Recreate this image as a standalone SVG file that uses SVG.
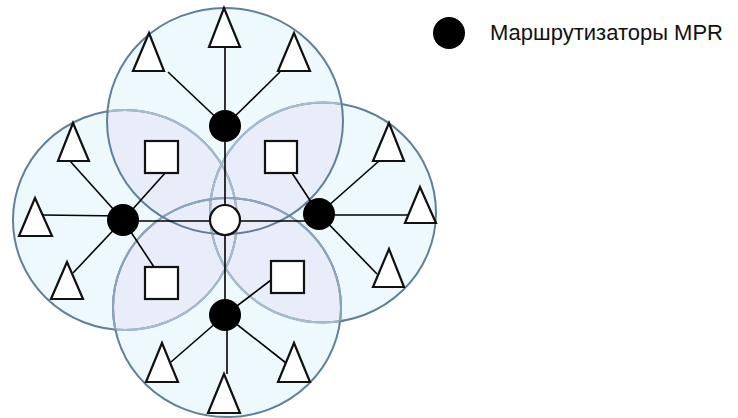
<svg xmlns="http://www.w3.org/2000/svg" width="738" height="418" viewBox="0 0 738 418">
<style>
.zone{fill:#eef9fd;stroke:none}
.ov{fill:#e9ecf9;stroke:none}
.ring{fill:none;stroke:#5f7f9a;stroke-width:2}
.ringL{fill:none;stroke:#a9bccd;stroke-width:2}
.ringM{fill:none;stroke:#8ba4bb;stroke-width:2}
.tri{fill:#fff;stroke:#111;stroke-width:2.2}
.sq{fill:#fff;stroke:#111;stroke-width:2.2}
.mpr{fill:#000}
.ctr{fill:#fff;stroke:#111;stroke-width:2.2}
.con line{stroke:#000;stroke-width:1.6}
.lbl{font-family:"Liberation Sans",Arial,sans-serif;font-size:22px;fill:#111}
</style>
<defs>
<clipPath id="cT"><ellipse cx="225" cy="121" rx="118" ry="113"/></clipPath>
<clipPath id="cL"><ellipse cx="125" cy="220" rx="112" ry="110"/></clipPath>
<clipPath id="cR"><ellipse cx="323" cy="212.5" rx="113" ry="110"/></clipPath>
<clipPath id="cB"><ellipse cx="227" cy="307.5" rx="114" ry="109.5"/></clipPath>
<clipPath id="oL"><ellipse cx="225" cy="121" rx="118" ry="113"/><ellipse cx="323" cy="212.5" rx="113" ry="110"/><ellipse cx="227" cy="307.5" rx="114" ry="109.5"/></clipPath>
<clipPath id="oR"><ellipse cx="225" cy="121" rx="118" ry="113"/><ellipse cx="125" cy="220" rx="112" ry="110"/><ellipse cx="227" cy="307.5" rx="114" ry="109.5"/></clipPath>
<clipPath id="oB"><ellipse cx="225" cy="121" rx="118" ry="113"/><ellipse cx="125" cy="220" rx="112" ry="110"/><ellipse cx="323" cy="212.5" rx="113" ry="110"/></clipPath>
</defs>

<g id="zones">
<ellipse class="zone" cx="125" cy="220" rx="112" ry="110"/>
<ellipse class="zone" cx="323" cy="212.5" rx="113" ry="110"/>
<ellipse class="zone" cx="227" cy="307.5" rx="114" ry="109.5"/>
<ellipse class="zone" cx="225" cy="121" rx="118" ry="113"/>
<ellipse class="ov" cx="225" cy="121" rx="118" ry="113" clip-path="url(#cL)"/>
<ellipse class="ov" cx="225" cy="121" rx="118" ry="113" clip-path="url(#cR)"/>
<ellipse class="ov" cx="225" cy="121" rx="118" ry="113" clip-path="url(#cB)"/>
<ellipse class="ov" cx="227" cy="307.5" rx="114" ry="109.5" clip-path="url(#cL)"/>
<ellipse class="ov" cx="227" cy="307.5" rx="114" ry="109.5" clip-path="url(#cR)"/>
<ellipse class="ov" cx="125" cy="220" rx="112" ry="110" clip-path="url(#cR)"/>
<ellipse class="ring" cx="125" cy="220" rx="112" ry="110"/>
<ellipse class="ringL" cx="125" cy="220" rx="112" ry="110" clip-path="url(#oL)"/>
<ellipse class="ring" cx="323" cy="212.5" rx="113" ry="110"/>
<ellipse class="ringL" cx="323" cy="212.5" rx="113" ry="110" clip-path="url(#oR)"/>
<ellipse class="ring" cx="227" cy="307.5" rx="114" ry="109.5"/>
<ellipse class="ringM" cx="227" cy="307.5" rx="114" ry="109.5" clip-path="url(#oB)"/>
<ellipse class="ring" cx="225" cy="121" rx="118" ry="113"/>
</g>

<g id="connectors" class="con">
<line x1="225" y1="126" x2="225" y2="47"/>
<line x1="225" y1="126" x2="168" y2="72"/>
<line x1="225" y1="126" x2="280" y2="72"/>
<line x1="225" y1="126" x2="225" y2="219"/>
<line x1="225" y1="219" x2="225" y2="315"/>
<line x1="123" y1="220" x2="70" y2="161"/>
<line x1="123" y1="216" x2="43" y2="215"/>
<line x1="123" y1="220" x2="73" y2="273"/>
<line x1="123" y1="220" x2="166" y2="172"/>
<line x1="123" y1="220" x2="154" y2="267"/>
<line x1="123" y1="221" x2="319" y2="221"/>
<line x1="319" y1="214" x2="379" y2="161"/>
<line x1="319" y1="215" x2="408" y2="215"/>
<line x1="319" y1="214" x2="377" y2="274"/>
<line x1="319" y1="214" x2="292" y2="173"/>
<line x1="225" y1="315" x2="171" y2="362"/>
<line x1="227" y1="315" x2="227" y2="374"/>
<line x1="225" y1="315" x2="286" y2="363"/>
<line x1="225" y1="315" x2="271" y2="280"/>
</g>

<g id="mpr-top"><circle class="mpr" cx="225" cy="126" r="16"/></g>
<g id="mpr-left"><circle class="mpr" cx="123" cy="220" r="16"/></g>
<g id="mpr-right"><circle class="mpr" cx="319" cy="214" r="16"/></g>
<g id="mpr-bottom"><circle class="mpr" cx="225" cy="315" r="16"/></g>
<g id="center"><circle class="ctr" cx="225" cy="220" r="15"/></g>

<g id="sq1"><rect class="sq" x="145" y="141" width="33" height="32"/></g>
<g id="sq2"><rect class="sq" x="265" y="141" width="32" height="32"/></g>
<g id="sq3"><rect class="sq" x="145" y="267" width="33" height="32"/></g>
<g id="sq4"><rect class="sq" x="271" y="261" width="33" height="32"/></g>

<g id="t1"><polygon class="tri" points="224,8 209,47 240,47"/></g>
<g id="t2"><polygon class="tri" points="149,33 133,71 164,71"/></g>
<g id="t3"><polygon class="tri" points="294,33 278,71 310,71"/></g>
<g id="l1"><polygon class="tri" points="73,123 58,161 89,161"/></g>
<g id="l2"><polygon class="tri" points="35,198 19,236 52,236"/></g>
<g id="l3"><polygon class="tri" points="67,262 51,299 83,299"/></g>
<g id="r1"><polygon class="tri" points="389,123 373,161 404,161"/></g>
<g id="r2"><polygon class="tri" points="420,187 405,223 436,223"/></g>
<g id="r3"><polygon class="tri" points="389,249 373,287 404,287"/></g>
<g id="b1"><polygon class="tri" points="162,343 146,382 178,382"/></g>
<g id="b2"><polygon class="tri" points="224,374 208,413 240,413"/></g>
<g id="b3"><polygon class="tri" points="294,343 278,382 310,382"/></g>

<g id="legend">
<circle class="mpr" cx="449" cy="33" r="16"/>
<text class="lbl" x="490" y="40">Маршрутизаторы MPR</text>
</g>
</svg>
